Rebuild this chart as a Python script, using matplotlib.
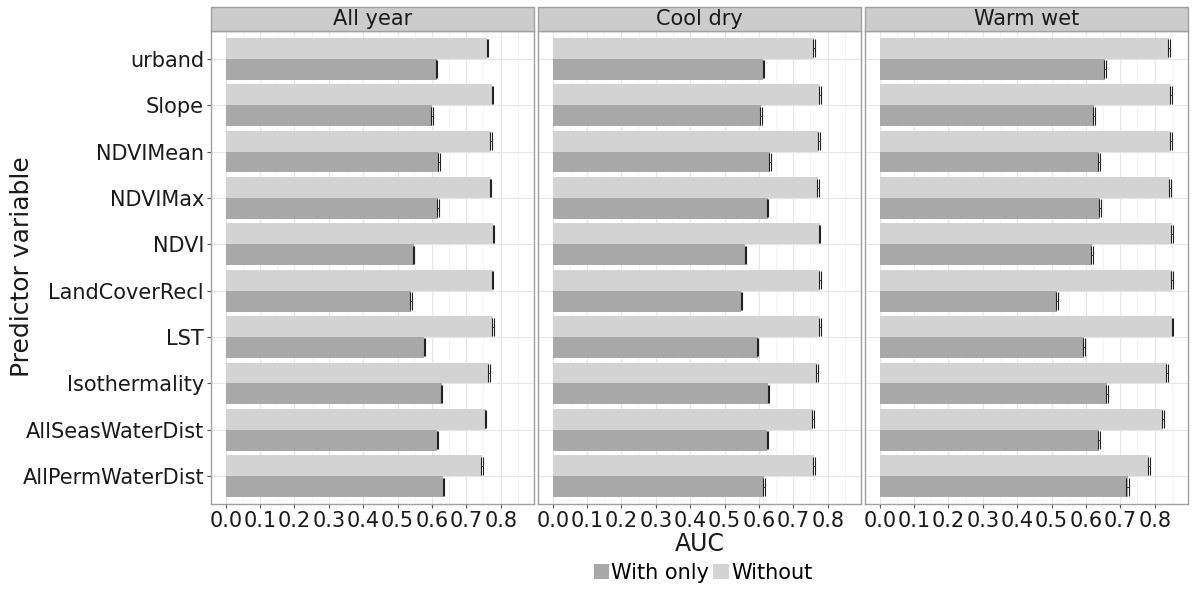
import matplotlib
matplotlib.use("Agg")
import matplotlib.pyplot as plt
from matplotlib.patches import Patch, Rectangle
import numpy as np

plt.rcParams['font.family'] = ['DejaVu Sans']

predictors = ["urband", "Slope", "NDVIMean", "NDVIMax", "NDVI", "LandCoverRecl",
              "LST", "Isothermality", "AllSeasWaterDist", "AllPermWaterDist"]
facets = ["All year", "Cool dry", "Warm wet"]

without_all = [0.761, 0.776, 0.772, 0.771, 0.779, 0.777, 0.778, 0.766, 0.756, 0.746]
withonly_all = [0.614, 0.600, 0.621, 0.618, 0.547, 0.539, 0.578, 0.628, 0.616, 0.633]
without_cool = [0.760, 0.778, 0.775, 0.773, 0.777, 0.779, 0.779, 0.770, 0.758, 0.760]
withonly_cool = [0.613, 0.606, 0.632, 0.625, 0.560, 0.549, 0.596, 0.627, 0.624, 0.615]
without_warm = [0.842, 0.847, 0.847, 0.844, 0.851, 0.851, 0.851, 0.835, 0.824, 0.783]
withonly_warm = [0.655, 0.624, 0.637, 0.641, 0.618, 0.517, 0.593, 0.661, 0.638, 0.721]

err_without_all = [0.002, 0.002, 0.002, 0.002, 0.002, 0.002, 0.002, 0.002, 0.002, 0.002]
err_withonly_all = [0.002, 0.002, 0.002, 0.002, 0.002, 0.002, 0.001, 0.002, 0.002, 0.002]
err_without_cool = [0.002, 0.003, 0.003, 0.003, 0.002, 0.003, 0.003, 0.003, 0.003, 0.002]
err_withonly_cool = [0.002, 0.002, 0.002, 0.002, 0.002, 0.002, 0.002, 0.002, 0.002, 0.002]
err_without_warm = [0.003, 0.003, 0.003, 0.003, 0.003, 0.003, 0.002, 0.003, 0.002, 0.003]
err_withonly_warm = [0.002, 0.003, 0.003, 0.003, 0.002, 0.003, 0.003, 0.004, 0.003, 0.003]

without_vals = [without_all, without_cool, without_warm]
withonly_vals = [withonly_all, withonly_cool, withonly_warm]
without_errs = [err_without_all, err_without_cool, err_without_warm]
withonly_errs = [err_withonly_all, err_withonly_cool, err_withonly_warm]

xticks = [0.0, 0.1, 0.2, 0.3, 0.4, 0.5, 0.6, 0.7, 0.8]
xticklabels = ["0.0", "0.1", "0.2", "0.3", "0.4", "0.5", "0.6", "0.7", "0.8"]

c_with = "#a8a8a8"
c_without = "#d3d3d3"

W, H = 1192, 590
fig = plt.figure(figsize=(W / 100, H / 100), dpi=100)

panel_left = [211, 538, 865]
panel_w = 323
panel_top = 31
panel_bottom = 504
strip_top = 7

n = len(predictors)
ypos = np.arange(n, 0, -1)  # urband at top
bw = 0.45

for i, fac in enumerate(facets):
    ax = fig.add_axes([panel_left[i] / W, (H - panel_bottom) / H,
                       panel_w / W, (panel_bottom - panel_top) / H])
    ax.set_xlim(-0.043, 0.897)
    ax.set_ylim(0.4, n + 0.6)
    ax.set_xticks(xticks)
    ax.set_xticks(np.arange(0.05, 0.9, 0.1), minor=True)
    ax.set_yticks(ypos)
    ax.grid(True, which='major', axis='both', color='#e6e6e6', lw=0.8)
    ax.grid(True, which='minor', axis='x', color='#f3f3f3', lw=0.6)
    ax.set_axisbelow(True)
    ax.barh(ypos + bw / 2, without_vals[i], height=bw, color=c_without, zorder=2)
    ax.barh(ypos - bw / 2, withonly_vals[i], height=bw, color=c_with, zorder=2)
    ax.errorbar(without_vals[i], ypos + bw / 2, xerr=without_errs[i], fmt='none',
                ecolor='#222222', elinewidth=0.6, capsize=6.3, capthick=0.8, zorder=3)
    ax.errorbar(withonly_vals[i], ypos - bw / 2, xerr=withonly_errs[i], fmt='none',
                ecolor='#222222', elinewidth=0.6, capsize=6.3, capthick=0.8, zorder=3)
    for s in ax.spines.values():
        s.set_color('#a0a0a0')
        s.set_linewidth(1.0)
    ax.tick_params(axis='both', which='major', length=3, color='#555555',
                   labelsize=15, labelcolor='#1a1a1a', pad=2)
    ax.tick_params(axis='x', which='minor', length=0)
    ax.set_xticklabels(xticklabels)
    if i == 0:
        ax.set_yticklabels(predictors)
    else:
        ax.set_yticklabels([])
        ax.tick_params(axis='y', length=0)
    # strip
    fig.patches.append(Rectangle((panel_left[i] / W, (H - panel_top) / H),
                                 panel_w / W, (panel_top - strip_top) / H,
                                 transform=fig.transFigure, facecolor='#cccccc',
                                 edgecolor='#a0a0a0', lw=1.0))
    fig.text((panel_left[i] + panel_w / 2) / W, (H - (panel_top + strip_top) / 2) / H,
             fac, ha='center', va='center', fontsize=15, color='#1a1a1a')

fig.text(700 / W, (H - 544) / H, "AUC", ha='center', va='center', fontsize=17, color='#1a1a1a')
fig.text(22 / W, (H - 267) / H, "Predictor variable", ha='center', va='center',
         rotation=90, fontsize=18, color='#1a1a1a')

handles = [Patch(facecolor=c_with, edgecolor='none', label='With only'),
           Patch(facecolor=c_without, edgecolor='none', label='Without')]
fig.legend(handles=handles, loc='center', bbox_to_anchor=(703 / W, (H - 573) / H),
           ncol=2, frameon=False, fontsize=15, handlelength=0.75, handleheight=0.75,
           handletextpad=0.1, columnspacing=0.2, borderpad=0)

fig.savefig("out.png", dpi=100)
